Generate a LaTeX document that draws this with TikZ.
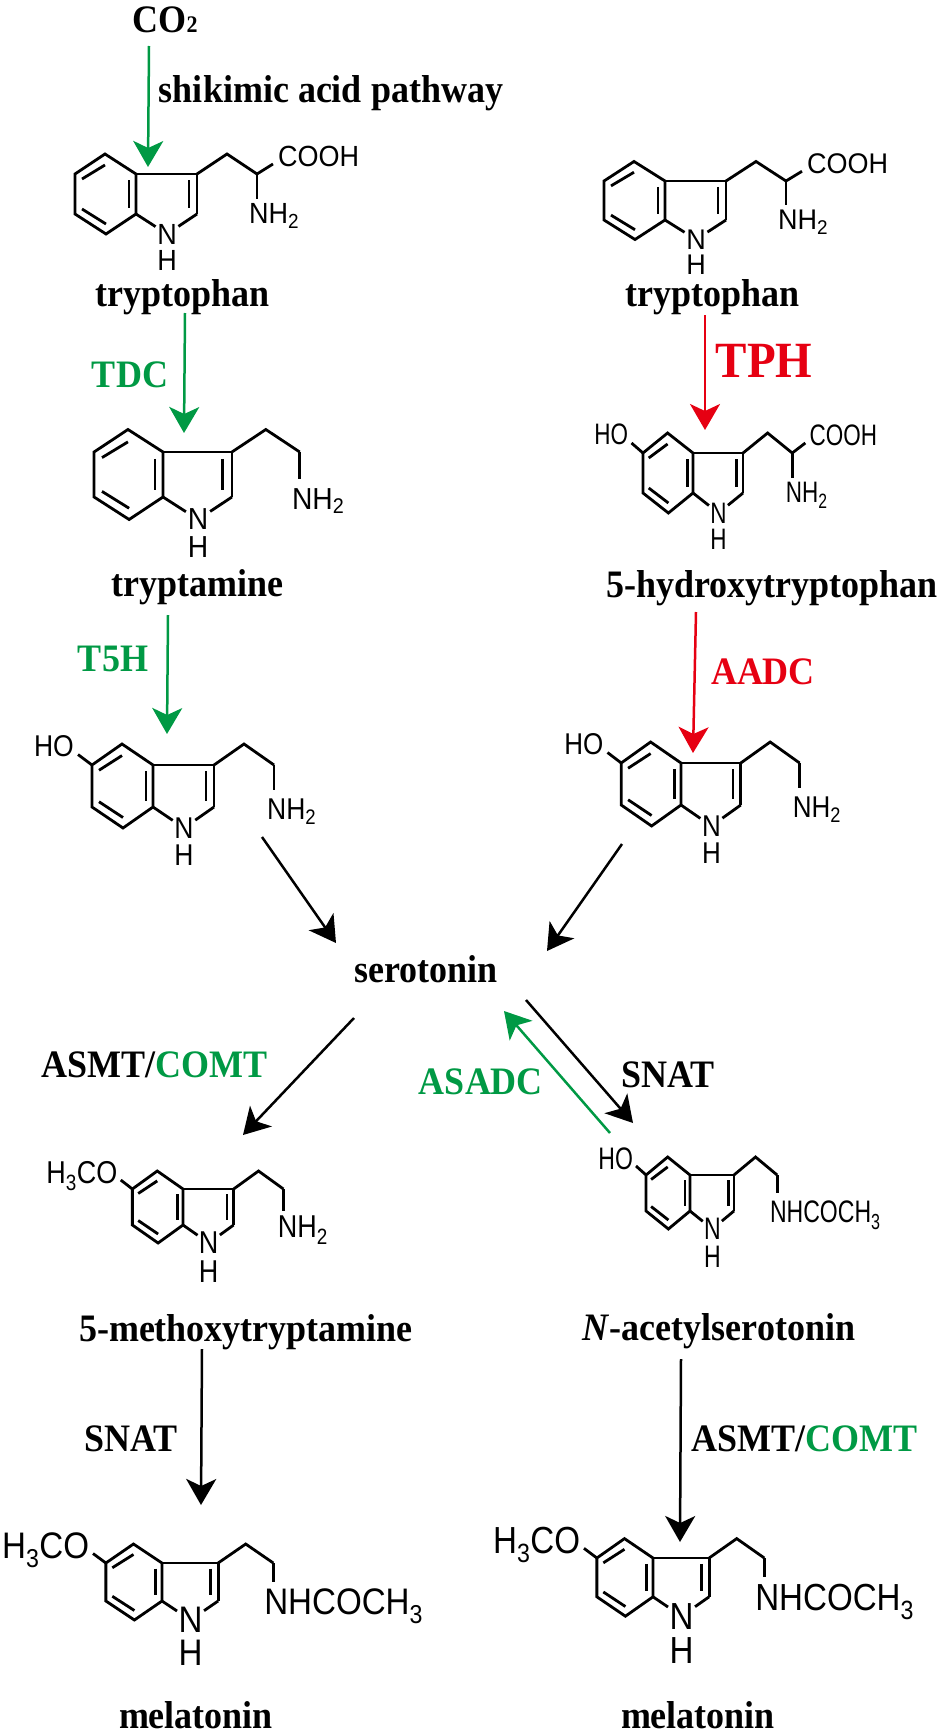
\documentclass[tikz,border=0pt]{standalone}
\usepackage{fontspec}
\setmainfont{Liberation Serif}
\setsansfont{Liberation Sans}
\definecolor{pathgreen}{RGB}{0, 153, 68}
\definecolor{pathred}{RGB}{230, 0, 18}
\usetikzlibrary{arrows.meta}

\begin{document}
\begin{tikzpicture}[
    x=1pt, y=-1pt,
    mol/.code n args={3}{\tikzset{x=#1pt, y=-#2pt}\def\atomx{#1}\def\atomy{#2}\def\atompt{#3}%
      \pgfmathsetmacro\atomgap{60+0.97*#3}%
      \pgfmathsetmacro\atomdrop{0.358*#3}},
    atom/.style={font=\fontsize{\atompt}{\atompt}\selectfont\sffamily, inner sep=0pt,
                 xscale=\atomx, yscale=1.08*\atomy, transform shape},
    bond/.style={line width=2.8pt, line join=miter, line cap=butt},
    lbl/.style={font=\fontsize{36}{36}\selectfont\bfseries, anchor=base, inner sep=0pt,
                yscale=1.08, transform shape},
    arr/.style={-{Stealth[length=26pt, width=30pt, inset=7pt]}, line width=2.5pt},
    indole/.pic={
      \draw[bond] (0,0) -- (-31,-20) -- (-61,0) -- (-61,40) -- (-30,60) -- (0,40) -- cycle;
      \draw[bond] (0,0) -- (61,0) -- (61,40);
      \draw[bond] (61,0) -- (91,-20) -- (121,0);
      \draw[bond] (-54,5) -- (-31,-9);
      \draw[bond] (-54,35) -- (-30,50);
      \draw[bond] (-7,6) -- (-7,34);
      \draw[bond] (53,6) -- (53,34);
      \node[atom, inner sep=1.5pt] (-N) at (31,60) {N};
      \node[atom] (-H) at (31,\atomgap) {H};
      \draw[bond] (0,40) -- (-N);
      \draw[bond] (61,40) -- (-N);
    },
    hydroxy/.pic={
      \node[atom, anchor=base east] (-OH) at (-79,{-18+\atomdrop}) {HO};
      \draw[bond] (-61,0) -- (-75,-10);
    },
    methoxy/.pic={
      \node[atom, anchor=base east] (-OMe) at (-79,{-18+\atomdrop}) {H\textsubscript{3}CO};
      \draw[bond] (-61,0) -- (-75,-10);
    },
    acid/.pic={
      \node[atom, anchor=base west] (-COOH) at (142,{-17+\atomdrop}) {COOH};
      \node[atom, anchor=base west] (-NH) at (113,{40+\atomdrop}) {NH\textsubscript{2}};
      \draw[bond] (121,0) -- (137,-10);
      \draw[bond] (121,0) -- (121,25);
    },
    amine/.pic={
      \node[atom, anchor=base west] (-NH) at (114,{42+\atomdrop}) {NH\textsubscript{2}};
      \draw[bond] (121,0) -- (121,24);
    },
    amide/.pic={
      \node[atom, anchor=base west] (-NH) at (111,{41+\atomdrop}) {NHCOCH\textsubscript{3}};
      \draw[bond] (121,0) -- (121,20);
    },
  ]
    \useasboundingbox (0,0) rectangle (945,1734);

    %% Left column
    \begin{scope}[shift={(136,174)}, mol={1}{1}{27}]
      \pic (trpA) {indole}; \pic (trpA) {acid};
    \end{scope}
    \begin{scope}[shift={(163,452)}, mol={1.13}{1.125}{25}]
      \pic (tam) {indole}; \pic (tam) {amine};
    \end{scope}
    \begin{scope}[shift={(153,765)}, mol={1}{1.05}{26.5}]
      \pic (htA) {indole}; \pic (htA) {amine}; \pic (htA) {hydroxy};
    \end{scope}
    \begin{scope}[shift={(183,1189)}, mol={0.83}{0.9}{32.5}]
      \pic (mot) {indole}; \pic (mot) {amine}; \pic (mot) {methoxy};
    \end{scope}
    \begin{scope}[shift={(162,1563)}, mol={0.92}{0.95}{36}]
      \pic (melA) {indole}; \pic (melA) {amide}; \pic (melA) {methoxy};
    \end{scope}

    %% Right column
    \begin{scope}[shift={(665,181)}, mol={1}{0.975}{27}]
      \pic (trpB) {indole}; \pic (trpB) {acid};
    \end{scope}
    \begin{scope}[shift={(693,453)}, mol={0.82}{1}{27.4}]
      \pic (htp) {indole}; \pic (htp) {acid}; \pic (htp) {hydroxy};
    \end{scope}
    \begin{scope}[shift={(681,763)}, mol={0.98}{1.05}{26.5}]
      \pic (htB) {indole}; \pic (htB) {amine}; \pic (htB) {hydroxy};
    \end{scope}
    \begin{scope}[shift={(690,1175)}, mol={0.72}{0.9}{32}]
      \pic (nas) {indole}; \pic (nas) {amide}; \pic (nas) {hydroxy};
    \end{scope}
    \begin{scope}[shift={(653,1558)}, mol={0.92}{0.97}{36}]
      \pic (melB) {indole}; \pic (melB) {amide}; \pic (melB) {methoxy};
    \end{scope}

    %% Compound names
    \node[lbl] (co2) at (165,33) {CO{\fontsize{22}{22}\selectfont 2}};
    \node[lbl] (ltrpA) at (183,306) {tryptophan};
    \node[lbl] (ltrpB) at (713,306) {tryptophan};
    \node[lbl] (ltam) at (197.5,596) {tryptamine};
    \node[lbl] (lhtp) at (772,597) {5-hydroxytryptophan};
    \node[lbl] (sero) at (426,982) {serotonin};
    \node[lbl] (lmot) at (246,1341) {5-methoxytryptamine};
    \node[lbl] (lnas) at (719,1340) {\textit{N}-acetylserotonin};
    \node[lbl] (lmelA) at (196,1728) {melatonin};
    \node[lbl] (lmelB) at (698,1728) {melatonin};

    %% Enzymes
    \node[lbl] (shik) at (331,103) {shikimic acid pathway};
    \node[lbl, text=pathgreen] (tdc) at (130,387) {TDC};
    \node[lbl, text=pathgreen] (tfh) at (113,671) {T5H};
    \node[lbl, text=pathred, font=\fontsize{47}{47}\selectfont\bfseries] (tph) at (764,377) {TPH};
    \node[lbl, text=pathred] (aadc) at (763,684) {AADC};
    \node[lbl] (asmtA) at (154.5,1077) {ASMT/\textcolor{pathgreen}{COMT}};
    \node[lbl, text=pathgreen] (asadc) at (481,1094) {ASADC};
    \node[lbl] (snatA) at (668,1087) {SNAT};
    \node[lbl] (snatB) at (131,1451) {SNAT};
    \node[lbl] (asmtB) at (804,1451) {ASMT/\textcolor{pathgreen}{COMT}};

    %% Arrow ends
    \coordinate (co2out) at (149,46);    \coordinate (trpAin) at (148,167);
    \coordinate (trpAout) at (185,313);  \coordinate (tamin) at (184,433);
    \coordinate (tamout) at (168,615);   \coordinate (htAin) at (167,734);
    \coordinate (htAout) at (262,837);   \coordinate (seroa) at (336,943);
    \coordinate (trpBout) at (705,315);  \coordinate (htpin) at (705,430);
    \coordinate (htpout) at (696,612);   \coordinate (htBin) at (693,753);
    \coordinate (htBout) at (622,844);   \coordinate (serob) at (547,951);
    \coordinate (seroc) at (354,1018);   \coordinate (motin) at (243,1135);
    \coordinate (serod) at (526,1000);   \coordinate (nasin) at (633,1123);
    \coordinate (nasout) at (610,1133);  \coordinate (seroe) at (504,1011);
    \coordinate (motout) at (202,1349);  \coordinate (melAin) at (201,1505);
    \coordinate (nasdown) at (681,1359); \coordinate (melBin) at (680,1542);

    \draw[arr, pathgreen] (co2out) -- (trpAin);
    \draw[arr, pathgreen] (trpAout) -- (tamin);
    \draw[arr, pathgreen] (tamout) -- (htAin);
    \draw[arr, pathred] (trpBout) -- (htpin);
    \draw[arr, pathred] (htpout) -- (htBin);
    \draw[arr] (htAout) -- (seroa);
    \draw[arr] (htBout) -- (serob);
    \draw[arr] (seroc) -- (motin);
    \draw[arr] (serod) -- (nasin);
    \draw[arr, pathgreen] (nasout) -- (seroe);
    \draw[arr] (motout) -- (melAin);
    \draw[arr] (nasdown) -- (melBin);
\end{tikzpicture}
\end{document}
